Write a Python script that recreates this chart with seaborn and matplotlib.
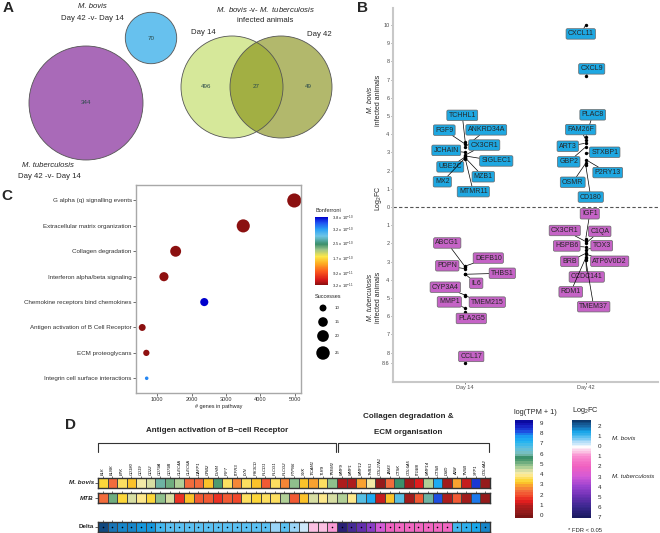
import numpy as np
import pandas as pd
import matplotlib
matplotlib.use("Agg")
import matplotlib.pyplot as plt
import matplotlib.transforms as mtransforms
from matplotlib.patches import Circle
from matplotlib.lines import Line2D
from matplotlib.colors import LinearSegmentedColormap, Normalize
from matplotlib.cm import ScalarMappable
import seaborn as sns

sns.set_style("white")
plt.rcParams["font.family"] = ["Liberation Sans", "DejaVu Sans"]
plt.rcParams["mathtext.fontset"] = "custom"
plt.rcParams["mathtext.rm"] = "Liberation Sans"
plt.rcParams["mathtext.it"] = "Liberation Sans:italic"
plt.rcParams["mathtext.bf"] = "Liberation Sans:bold"

# ---------------- data ----------------
# A: numbers of DE genes (Venn)
venn_mtb = 344
venn_bovis = 70
venn_d14_only = 496
venn_shared = 27
venn_d42_only = 49

# B: top DE genes (positive = up in M. bovis, negative = up in M. tuberculosis)
b_gene = ["TCHHL1", "FGF9", "ANKRD34A", "JCHAIN", "CX3CR1", "SIGLEC1", "UBE2C", "MZB1", "MX2", "MTMR11",
          "CXCL11", "CXCL9", "PLAC8", "FAM26F", "ART3", "STXBP1", "GBP2", "P2RY13", "OSMR", "CD180",
          "ABCG1", "DEFB10", "PDPN", "THBS1", "IL6", "CYP3A4", "MMP1", "TMEM215", "PLA2G5", "CCL17",
          "IGF1", "CX3CR1", "C1QA", "HSPB6", "TOX3", "BRB", "ATP6V0D2", "CCDC141", "RDM1", "TMEM37"]
b_day = ["Day 14"] * 10 + ["Day 42"] * 10 + ["Day 14"] * 10 + ["Day 42"] * 10
b_logfc = [3.55, 3.45, 3.3, 3.0, 2.85, 2.8, 2.75, 2.7, 2.7, 2.65,
           10.0, 7.2, 3.85, 3.7, 3.5, 2.95, 3.3, 2.6, 2.4, 2.3,
           -3.3, -3.25, -3.4, -3.7, -3.7, -4.85, -5.55, -4.9, -5.8, -8.6,
           -1.75, -1.9, -2.0, -2.2, -2.35, -2.55, -2.6, -2.75, -2.8, -2.9]
# label offsets from point (pixels, right / down)
b_label_off = [(-3, -27), (-21, -14), (21, -17), (-19, -2), (19, -10), (31, 5), (-15, 10), (18, 19), (-23, 24), (8, 33),
               (-5, 9), (6, -7), (7, -22), (-5, -10), (-18, 3), (19, -1), (-17, 15), (22, 13), (-13, 19), (5, 32),
               (-18, -24), (23, -8), (-18, -3), (37, -1), (11, 9), (-20, -8), (-16, -6), (22, 6), (6, 6), (6, -7),
               (4, -25), (-21, -11), (14, -12), (-19, -1), (16, -4), (-16, 8), (24, 7), (1, 20), (-15, 34), (8, 47)]

# C: pathway enrichment
c_pathway = ["G alpha (q) signalling events", "Extracellular matrix organization", "Collagen degradation",
             "Interferon alpha/beta signaling", "Chemokine receptors bind chemokines",
             "Antigen activation of B Cell Receptor", "ECM proteoglycans", "Integrin cell surface interactions"]
c_genes = [4980, 3500, 1540, 1200, 2370, 570, 690, 700]
c_success = [27, 24, 18, 14, 12, 10, 9, 6]
c_bonf = [3.3e-11, 3.3e-11, 3.3e-11, 3.4e-11, 3.8e-10, 3.3e-11, 3.4e-11, 3.28e-10]
c_bonf_ticks = [3.2e-11, 9.2e-11, 1.7e-10, 2.5e-10, 3.2e-10, 3.8e-10]
c_bonf_labels = [r"3.2 x 10$^{-11}$", r"9.2 x 10$^{-11}$", r"1.7 x 10$^{-10}$",
                 r"2.5 x 10$^{-10}$", r"3.2 x 10$^{-10}$", r"3.8 x 10$^{-10}$"]
c_size_legend = [10, 15, 20, 25]

# D: expression heatmap
d_genes_bcr = ["BLK", "BLNK", "BTK", "CD180", "CD19", "CD22", "CD79A", "CD79B", "CLEC4A", "CLEC6A",
               "DAPP1", "GRB2", "IGHM", "IRF7", "ITPR3", "LYN", "PIK3CD", "PLCD1", "PLCG1", "PLCG2",
               "PTPN6", "SYK", "TICAM1", "TLR9", "TREM2"]
d_genes_ecm = ["MMP9", "MMP1", "MMP12", "THBS1", "COL27A1", "JAM3", "CTSK", "COL6A5", "ITGB8", "MMP14",
               "CTSB", "DMD", "A2M", "TNXB", "SPP1", "COL4A2"]
d_tpm_bovis = [3.3, 2.3, 3.6, 3.2, 4.0, 4.3, 6.0, 5.1, 4.7, 2.3,
               2.3, 3.2, 5.5, 3.7, 2.6, 3.6, 3.2, 2.0, 3.5, 2.6,
               4.8, 3.2, 2.8, 3.7, 4.9,
               0.8, 0.8, 2.9, 4.2, 0.4, 2.3, 5.6, 0.5, 1.3, 4.7,
               7.4, 0.5, 2.8, 1.0, 8.3, 0.3]
d_tpm_mtb = [2.4, 5.2, 3.3, 4.3, 3.9, 3.3, 5.0, 4.5, 1.7, 3.0,
             2.2, 2.2, 1.7, 2.2, 1.8, 3.6, 3.3, 3.5, 3.5, 4.7,
             2.2, 3.2, 4.3, 3.9, 4.3,
             4.7, 3.8, 6.6, 7.3, 1.0, 3.2, 6.6, 0.7, 2.2, 6.0,
             8.2, 0.8, 2.2, 0.7, 7.8, 0.4]
d_delta = [2.3, 1.9, 1.75, 1.65, 1.6, 1.5, 1.05, 0.95, 0.95, 0.95,
           0.95, 0.95, 0.95, 0.95, 0.95, 0.95, 0.9, 0.9, 0.5, 0.85,
           0.6, 0.3, -0.6, -0.6, -0.8,
           -6.6, -5.8, -5.0, -4.2, -3.0, -2.0, -1.9, -1.9, -1.9, -1.9,
           -1.9, -1.9, 1.1, 1.2, 1.45, 1.65]
d_fdr = [True] * 18 + [False, True, True, False, False, False, True] + [True] * 16
d_tpm_ticks = list(range(10))
d_fc_ticks = [2, 1, 0, -1, -2, -3, -4, -5, -6, -7]

# ---------------- layout helpers ----------------
W, H = 660, 533
fig = plt.figure(figsize=(W / 100, H / 100), dpi=100)


def box(x0, y0, x1, y1):
    return [x0 / W, 1 - y1 / H, (x1 - x0) / W, (y1 - y0) / H]


def ftext(x, y, s, **kw):
    kw.setdefault("ha", "center")
    kw.setdefault("va", "center")
    fig.text(x / W, 1 - y / H, s, **kw)


# panel letters
for lab, (x, y) in {"A": (8, 8), "B": (362, 8), "C": (7, 196), "D": (70, 425)}.items():
    ftext(x, y, lab, fontsize=11, fontweight="bold")

# ---------------- A: Venn ----------------
axA = fig.add_axes(box(0, 0, 330, 200))
axA.set_xlim(0, 330)
axA.set_ylim(200, 0)
axA.axis("off")
k = 57 / np.sqrt(venn_mtb)
axA.add_patch(Circle((86, 103), k * np.sqrt(venn_mtb), fc="#a96ab8", ec="#555555", lw=0.6))
axA.add_patch(Circle((151, 38), k * np.sqrt(venn_bovis), fc="#67c1ee", ec="#555555", lw=0.6))
axA.add_patch(Circle((232, 87), 51, fc="#bbda57", alpha=0.6, ec="none"))
axA.add_patch(Circle((281, 87), 51, fc="#808a0a", alpha=0.6, ec="none", clip_on=False))
axA.add_patch(Circle((232, 87), 51, fc="none", ec="#555555", lw=0.6))
axA.add_patch(Circle((281, 87), 51, fc="none", ec="#555555", lw=0.6, clip_on=False))
num_kw = dict(ha="center", va="center", fontsize=4.5, color="#2b4a4a")
axA.text(86, 103, str(venn_mtb), **num_kw)
axA.text(151, 38, str(venn_bovis), **num_kw)
axA.text(206, 87, str(venn_d14_only), **num_kw)
axA.text(256, 87, str(venn_shared), **num_kw)
axA.text(308, 87, str(venn_d42_only), **num_kw)
ftext(92, 7, "M. bovis", fontsize=5.6, style="italic")
ftext(92, 19, "Day 42 -v- Day 14", fontsize=5.6)
ftext(48, 165, "M. tuberculosis", fontsize=5.6, style="italic")
ftext(49, 176, "Day 42 -v- Day 14", fontsize=5.6)
ftext(265, 9, r"$\it{M.\ bovis}$ -v- $\it{M.\ tuberculosis}$", fontsize=5.6)
ftext(265, 20, "infected animals", fontsize=5.6)
ftext(203, 33, "Day 14", fontsize=5.6)
ftext(319, 34, "Day 42", fontsize=5.6)

# ---------------- B: top genes ----------------
axB = fig.add_axes(box(393, 8, 658, 382))
dfb = pd.DataFrame({"gene": b_gene, "day": b_day, "logfc": b_logfc})
dfb["host"] = np.where(dfb["logfc"] > 0, "M. bovis", "M. tuberculosis")
sns.scatterplot(data=dfb, x="day", y="logfc", color="black", s=6, linewidth=0, ax=axB, legend=False)
days = ["Day 14", "Day 42"]
host_col = {"M. bovis": "#1ea7e1", "M. tuberculosis": "#c563c6"}
for (g, d, v, h), (dx, dy) in zip(dfb[["gene", "day", "logfc", "host"]].values, b_label_off):
    axB.annotate(g, xy=(days.index(d), v), xytext=(dx, -dy), textcoords="offset pixels",
                 ha="center", va="center", fontsize=5,
                 bbox=dict(boxstyle="round,pad=0.25,rounding_size=0.2", fc=host_col[h], ec="#666666", lw=0.5),
                 arrowprops=dict(arrowstyle="-", color="black", lw=0.5, shrinkA=0, shrinkB=1))
axB.axhline(0, ls=(0, (3, 2)), color="#555555", lw=0.8)
axB.set_xlim(-0.6, 1.6)
axB.set_ylim(-9.62, 10.93)
yt = list(range(10, -9, -1)) + [-8.6]
axB.set_yticks(yt)
axB.set_yticklabels([("%g" % abs(t)) for t in yt])
axB.set_xticks([0, 1])
axB.set_xticklabels(days)
axB.set_xlabel("")
axB.set_ylabel("")
axB.tick_params(labelsize=4, colors="#4d4d4d", length=1.5, width=0.5, left=True, bottom=True, pad=1)
for s in ["top", "right"]:
    axB.spines[s].set_visible(False)
for s in ["left", "bottom"]:
    axB.spines[s].set_color("#c8c8c8")
    axB.spines[s].set_linewidth(1.5)
ftext(371, 100, "M. bovis", fontsize=5, style="italic", rotation=90)
ftext(378.5, 100, "infected animals", fontsize=5, rotation=90)
ftext(378.5, 198, "Log$_2$FC", fontsize=5, rotation=90)
ftext(371, 297, "M. tuberculosis", fontsize=5, style="italic", rotation=90)
ftext(378.5, 297, "infected animals", fontsize=5, rotation=90)

# ---------------- C: pathway enrichment ----------------
bonf_cmap = LinearSegmentedColormap.from_list("bonf", [
    (0.0, "#8b1010"), (0.08, "#d91a1a"), (0.2, "#fc5a1e"), (0.32, "#fdb023"), (0.42, "#fde84a"),
    (0.52, "#9cc48a"), (0.6, "#3b8f6a"), (0.72, "#6ec6e6"), (0.82, "#2aa0f5"), (0.92, "#1e50f0"),
    (1.0, "#0000cd")])
bonf_norm = Normalize(vmin=c_bonf_ticks[0], vmax=c_bonf_ticks[-1])
axC = fig.add_axes(box(136, 185, 301, 393))
dfc = pd.DataFrame({"pathway": c_pathway, "genes": c_genes, "success": c_success, "bonf": c_bonf})
size_range = (6.6, 103)
size_norm = (6, 27)
sns.scatterplot(data=dfc, x="genes", y="pathway", hue="bonf", palette=bonf_cmap, hue_norm=bonf_norm,
                size="success", sizes=size_range, size_norm=size_norm, linewidth=0, legend=False, ax=axC)
axC.set_xlim(390, 5175)
axC.set_ylim(len(c_pathway) - 0.42, -0.61)
axC.set_xticks([1000, 2000, 3000, 4000, 5000])
axC.set_xlabel("# genes in pathway", fontsize=4, labelpad=1)
axC.set_ylabel("")
axC.tick_params(labelsize=4.5, colors="#333333", length=2, width=0.5, left=True, bottom=True, pad=1)
axC.tick_params(axis="x", labelsize=4)
for s in axC.spines.values():
    s.set_color("#a8a8a8")
    s.set_linewidth(1)

caxC = fig.add_axes(box(315, 217, 328, 285))
cbC = fig.colorbar(ScalarMappable(norm=bonf_norm, cmap=bonf_cmap), cax=caxC)
cbC.outline.set_visible(False)
cbC.set_ticks(c_bonf_ticks)
cbC.set_ticklabels(c_bonf_labels)
caxC.tick_params(labelsize=3, length=0, pad=3)
ftext(315, 210, "Bonferroni", fontsize=4, ha="left")
ftext(315, 296, "Successes", fontsize=4, ha="left")
axS = fig.add_axes(box(312, 300, 350, 362))
axS.set_xlim(312, 350)
axS.set_ylim(362, 300)
axS.axis("off")
leg_y = [308, 322, 336, 353]
leg_s = [size_range[0] + (v - size_norm[0]) / (size_norm[1] - size_norm[0]) * (size_range[1] - size_range[0])
         for v in c_size_legend]
axS.scatter([323] * 4, leg_y, s=leg_s, color="black", linewidth=0)
for y, v in zip(leg_y, c_size_legend):
    axS.text(335, y, str(v), fontsize=3.2, va="center", ha="left")

# ---------------- D: heatmap ----------------
genes = d_genes_bcr + d_genes_ecm
n = len(genes)
tpm_min, tpm_max = -0.3, 9.3
tpm_nodes = [(-0.3, "#7a1414"), (0.0, "#8b1a1a"), (0.8, "#b01c1c"), (1.3, "#e41e1e"), (1.8, "#f24a2c"),
             (2.3, "#f26c3c"), (2.8, "#f9a030"), (3.2, "#fcd227"), (3.7, "#fde270"), (4.0, "#fdeea8"),
             (4.3, "#e2e2a6"), (4.7, "#a6cc94"), (5.0, "#82b888"), (5.4, "#4e9a70"), (5.7, "#3a8f6a"),
             (6.0, "#7fbfb5"), (6.6, "#60c0e0"), (7.3, "#20b4f2"), (7.8, "#1a98f2"), (8.3, "#1e48e0"),
             (9.0, "#1414b8"), (9.3, "#0a0aa0")]
tpm_cmap = LinearSegmentedColormap.from_list(
    "tpm", [((v - tpm_min) / (tpm_max - tpm_min), c) for v, c in tpm_nodes], N=38)
fc_min, fc_max = -7.1, 2.6
fc_nodes = [(-7.1, "#1a1a60"), (-6, "#3c2890"), (-5, "#6a30b2"), (-4, "#9a42cf"), (-3, "#d45ad6"),
            (-2, "#f060c0"), (-1, "#f989cf"), (-0.5, "#fbc3e3"), (0, "#ffffff"), (0.3, "#cde8fa"),
            (0.7, "#8fd0f5"), (1.0, "#52bdf0"), (1.5, "#14a3e8"), (2.0, "#1a6fb0"), (2.6, "#0d3a6e")]
fc_cmap = LinearSegmentedColormap.from_list(
    "fc", [((v - fc_min) / (fc_max - fc_min), c) for v, c in fc_nodes], N=60)

tpm = pd.DataFrame([d_tpm_bovis, d_tpm_mtb], index=["M. bovis", "MTB"], columns=genes)
delta = pd.DataFrame([d_delta], index=["Delta"], columns=genes)
axBov = fig.add_axes(box(98, 478, 490, 488))
axMtb = fig.add_axes(box(98, 493, 490, 503))
axDl = fig.add_axes(box(98, 522, 490, 532))
for row, ax in zip(tpm.index, [axBov, axMtb]):
    sns.heatmap(tpm.loc[[row]], ax=ax, cmap=tpm_cmap, vmin=tpm_min, vmax=tpm_max, cbar=False,
                linewidths=0.4, linecolor="#444444", xticklabels=genes, yticklabels=[row])
sns.heatmap(delta, ax=axDl, cmap=fc_cmap, vmin=fc_min, vmax=fc_max, cbar=False,
            linewidths=0.4, linecolor="#444444", xticklabels=genes, yticklabels=["Delta"])
sig = np.array(d_fdr)
axDl.scatter(np.arange(n)[sig] + 0.5, [0.5] * sig.sum(), s=1.3, color="black", linewidth=0)

for ax, italic in [(axBov, True), (axMtb, True), (axDl, False)]:
    ax.xaxis.tick_top()
    ax.tick_params(axis="x", top=True, bottom=False, labeltop=(ax is axBov), labelbottom=False,
                   length=1.5, width=0.5, pad=0.5, colors="#333333")
    ax.tick_params(axis="y", left=True, length=2, width=0.5, pad=1)
    ax.set_xlabel("")
    ax.set_ylabel("")
    for t in ax.get_yticklabels():
        t.set_rotation(0)
        t.set_fontsize(4.5)
        t.set_fontweight("bold")
        if italic:
            t.set_style("italic")
    for s in ax.spines.values():
        s.set_visible(True)
        s.set_color("#333333")
        s.set_linewidth(1)
for t in axBov.get_xticklabels():
    t.set_rotation(90)
    t.set_fontsize(3)
    t.set_style("italic")
    t.set_color("black")

# brackets over gene groups
trans = mtransforms.blended_transform_factory(axBov.transData, fig.transFigure)
y_top, y_end = 1 - 443 / H, 1 - 452 / H
for x0, x1 in [(0.02, len(d_genes_bcr) - 0.1), (len(d_genes_bcr) + 0.1, n - 0.1)]:
    fig.add_artist(Line2D([x0, x0, x1, x1], [y_end, y_top, y_top, y_end], transform=trans,
                          color="#333333", lw=0.8))
ftext(217, 430, "Antigen activation of B\u2212cell Receptor", fontsize=5.8, fontweight="bold")
ftext(408, 417, "Collagen degradation &", fontsize=5.8, fontweight="bold")
ftext(408, 432, "ECM organisation", fontsize=5.8, fontweight="bold")

# colour keys
caxT = fig.add_axes(box(515, 420, 533, 518))
cbT = fig.colorbar(ScalarMappable(norm=Normalize(tpm_min, tpm_max), cmap=tpm_cmap), cax=caxT)
cbT.outline.set_visible(False)
cbT.set_ticks(d_tpm_ticks)
caxT.yaxis.set_ticks_position("both")
caxT.tick_params(direction="in", length=3, width=0.6, color="white", labelsize=4.5, pad=5,
                 left=True, right=True, labelleft=False, labelright=True)
ftext(514, 412, "log(TPM + 1)", fontsize=5.3, ha="left")

caxF = fig.add_axes(box(572, 420, 591, 518))
cbF = fig.colorbar(ScalarMappable(norm=Normalize(fc_min, fc_max), cmap=fc_cmap), cax=caxF)
cbF.outline.set_visible(False)
cbF.set_ticks(d_fc_ticks)
cbF.set_ticklabels([str(abs(t)) for t in d_fc_ticks])
caxF.yaxis.set_ticks_position("both")
caxF.tick_params(direction="in", length=3, width=0.6, color="white", labelsize=4.5, pad=5,
                 left=True, right=True, labelleft=False, labelright=True)
ftext(572, 411, "Log$_2$FC", fontsize=5.3, ha="left")
ftext(612, 438, "M. bovis", fontsize=4.5, style="italic", ha="left")
ftext(612, 477, "M. tuberculosis", fontsize=4.5, style="italic", ha="left")
ftext(585, 530, "* FDR < 0.05", fontsize=4.2)

fig.savefig("out.png", dpi=100)
